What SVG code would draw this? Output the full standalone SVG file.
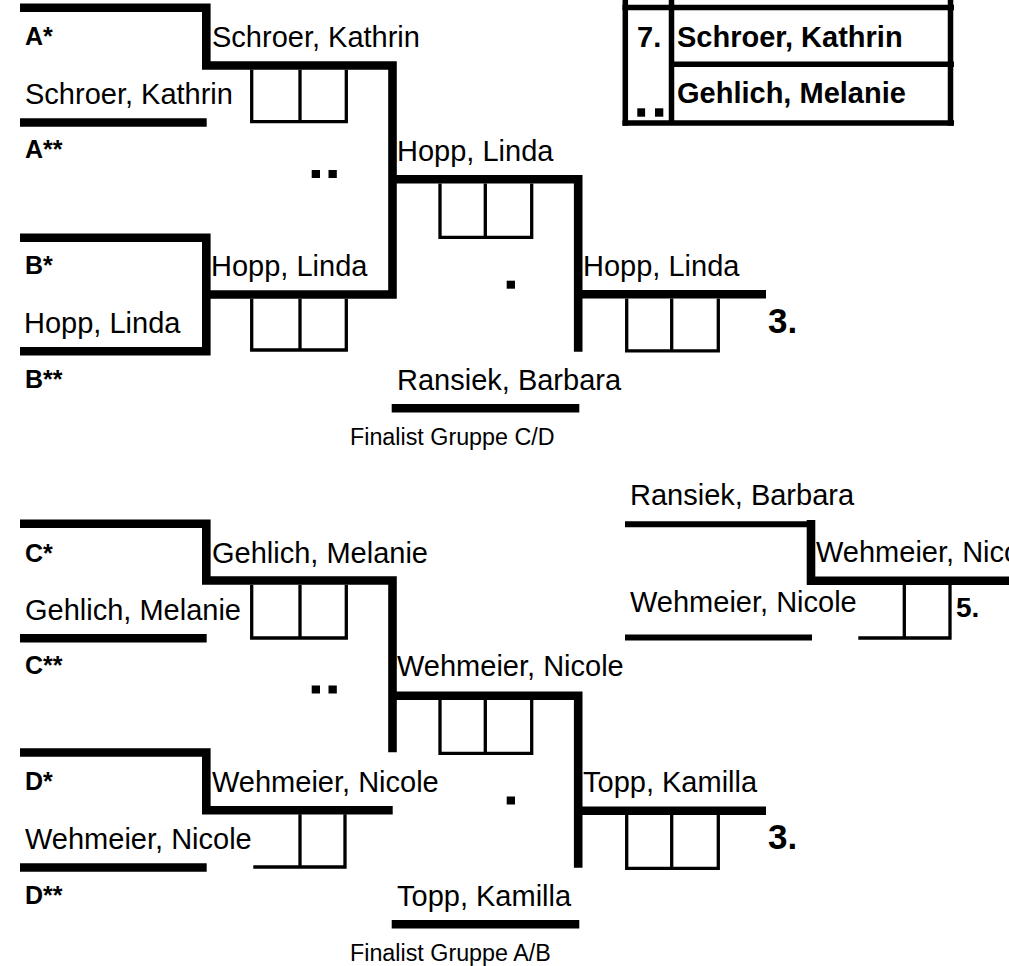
<svg xmlns="http://www.w3.org/2000/svg" width="1009" height="966" viewBox="0 0 1009 966">
<style>
.t{stroke:#000;stroke-width:8.6;fill:none;stroke-linejoin:miter;stroke-linecap:butt}
.m{stroke:#000;stroke-width:6;fill:none}
.tb{stroke:#000;stroke-width:5.5;fill:none}
.b{stroke:#000;stroke-width:3.3;fill:none;stroke-linejoin:miter}
text{font-family:"Liberation Sans",Arial,sans-serif;fill:#000}
.n{font-size:29px}
.nb{font-size:29px;font-weight:bold}
.l{font-size:25px;font-weight:bold}
.p3{font-size:35px;font-weight:bold}
.p5{font-size:28px;font-weight:bold}
.f{font-size:23.3px}
</style>
<rect width="1009" height="966" fill="#fff"/>
<g id="connectors">
<path class="t" d="M20 7.7H206.3V65.5H392.5V294.5H202"/>
<path class="t" d="M20 122.5H206.7"/>
<path class="t" d="M20 237.8H206.3V351.3H20"/>
<path class="t" d="M392.5 179.2H578.2V351.7"/>
<path class="t" d="M578.2 294.2H766"/>
<path class="t" d="M391.7 408.3H579.3"/>
<path class="t" d="M20 523.8H206.3V580.5H392.5V752.3"/>
<path class="t" d="M20 638.3H206.7"/>
<path class="t" d="M20 752.5H206.3V810.2H392.7"/>
<path class="t" d="M20 867.5H206.7"/>
<path class="t" d="M392.5 695.8H578.2V867.7"/>
<path class="t" d="M578.2 810.8H766"/>
<path class="t" d="M391.7 924.3H579.3"/>
<path class="m" d="M625 524.2H811"/>
<path class="t" d="M811 520V580.8H1009"/>
<path class="m" d="M625 637.5H812"/>
</g>
<g id="score-boxes">
<path class="b" d="M251.7 69.7V121.7H346.3V69.7M300 69.7V121.7"/>
<path class="b" d="M251.7 298.7V350H346.3V298.7M300 298.7V350"/>
<path class="b" d="M440 183.4V237.3H531.7V183.4M485.3 183.4V237.3"/>
<path class="b" d="M626.7 298.4V350.8H718.3V298.4M671.7 298.4V350.8"/>
<path class="b" d="M251.7 584.7V638H346.3V584.7M300 584.7V638"/>
<path class="b" d="M253.3 867H345V814.3M300 814.3V867"/>
<path class="b" d="M440 700V753.3H531.7V700M485.3 700V753.3"/>
<path class="b" d="M626.7 815V868.3H718.3V815M671.7 815V868.3"/>
<path class="b" d="M858.3 638H950V585M904.3 585V638"/>
</g>
<g id="ranking-table">
<path class="tb" d="M625.3 0V125.7M671.5 0V125M950.5 0V125.7"/>
<path class="tb" d="M622.5 7.5H954M671.5 64.2H954M622.5 123H954"/>
<rect x="637.3" y="108.3" width="7.8" height="8.4"/>
<rect x="655" y="108.3" width="8.3" height="8.4"/>
<text class="nb" x="637" y="46.7">7.</text>
<text class="nb" x="677" y="46.7">Schroer, Kathrin</text>
<text class="nb" x="677" y="103.3">Gehlich, Melanie</text>
</g>
<g id="group-A">
<text class="l" x="25" y="45">A*</text>
<text class="n" x="212" y="47">Schroer, Kathrin</text>
<text class="n" x="25" y="104">Schroer, Kathrin</text>
<text class="l" x="25" y="158">A**</text>
</g>
<g id="group-B">
<text class="l" x="25" y="274">B*</text>
<text class="n" x="211" y="276">Hopp, Linda</text>
<text class="n" x="24" y="332.8">Hopp, Linda</text>
<text class="l" x="25" y="388">B**</text>
</g>
<g id="semi-AB">
<rect x="311.7" y="170" width="8.3" height="8"/>
<rect x="328.5" y="170" width="8.3" height="8"/>
<text class="n" x="397" y="160.7">Hopp, Linda</text>
<rect x="506.7" y="280.7" width="8.3" height="8"/>
<text class="n" x="583" y="275.7">Hopp, Linda</text>
<text class="p3" x="768" y="333">3.</text>
<text class="n" x="397" y="389.8">Ransiek, Barbara</text>
<text class="f" x="350" y="445">Finalist Gruppe C/D</text>
</g>
<g id="group-C">
<text class="l" x="25" y="562">C*</text>
<text class="n" x="212" y="562.5">Gehlich, Melanie</text>
<text class="n" x="25" y="619.5">Gehlich, Melanie</text>
<text class="l" x="25" y="674">C**</text>
</g>
<g id="group-D">
<text class="l" x="25" y="790">D*</text>
<text class="n" x="212" y="791.7">Wehmeier, Nicole</text>
<text class="n" x="25" y="849">Wehmeier, Nicole</text>
<text class="l" x="25" y="904">D**</text>
</g>
<g id="semi-CD">
<rect x="311.7" y="685.5" width="8.3" height="8"/>
<rect x="328.5" y="685.5" width="8.3" height="8"/>
<text class="n" x="397" y="676.2">Wehmeier, Nicole</text>
<rect x="506.7" y="796.5" width="8.3" height="8"/>
<text class="n" x="583" y="792.3">Topp, Kamilla</text>
<text class="p3" x="768" y="848.5">3.</text>
<text class="n" x="397" y="905.8">Topp, Kamilla</text>
<text class="f" x="350" y="960.5">Finalist Gruppe A/B</text>
</g>
<g id="place-5">
<text class="n" x="630" y="505">Ransiek, Barbara</text>
<text class="n" x="816" y="562.3">Wehmeier, Nicole</text>
<text class="n" x="630" y="612">Wehmeier, Nicole</text>
<text class="p5" x="956" y="617">5.</text>
</g>
</svg>
